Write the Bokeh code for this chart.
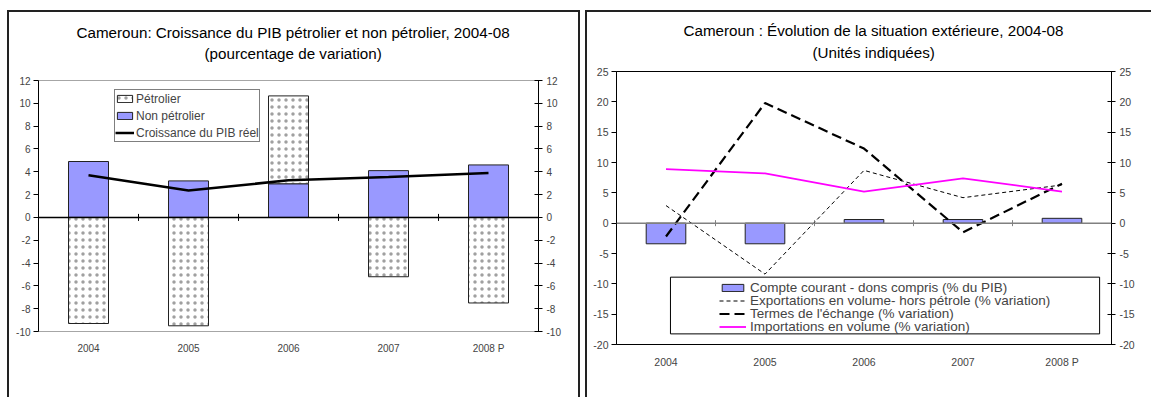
import numpy as np
from bokeh.plotting import figure
from bokeh.models import (Range1d, FixedTicker, LinearAxis, Span, Title,
                          Legend, LegendItem, BoxAnnotation)
from bokeh.embed import file_html
from bokeh.resources import INLINE

# ---- data -------------------------------------------------------------
years = ["2004", "2005", "2006", "2007", "2008 P"]

# Croissance du PIB (pourcentage de variation)
petrolier = [-9.3, -9.5, 7.7, -5.2, -7.5]
non_petrolier = [4.9, 3.2, 2.95, 4.1, 4.6]
pib_reel = [3.7, 2.35, 3.25, 3.55, 3.9]
left_ticks = [-10, -8, -6, -4, -2, 0, 2, 4, 6, 8, 10, 12]

# Situation extérieure (unités indiquées)
compte_courant = [-3.4, -3.4, 0.6, 0.6, 0.8]
exportations = [2.9, -8.4, 8.7, 4.2, 6.3]
termes_echange = [-2.2, 19.8, 12.3, -1.5, 6.5]
importations = [8.9, 8.2, 5.2, 7.4, 5.2]
right_ticks = [-20, -15, -10, -5, 0, 5, 10, 15, 20, 25]

# ---- styling ----------------------------------------------------------
FONT = "Liberation Sans"
BAR_BLUE = "#9999FF"
PANEL_OUTLINE = "2px solid #222222"
TITLE_SIZE = "15.2px"

n = len(years)
centers = np.arange(n) + 0.5
boundaries = np.arange(1, n)
labels = {float(c): y for c, y in zip(centers, years)}


def base_figure(width, height, y_lo, y_hi, borders):
    p = figure(width=width, height=height, output_backend="svg",
               toolbar_location=None, x_range=Range1d(0, n),
               y_range=Range1d(y_lo, y_hi), min_border_left=borders[0],
               min_border_right=borders[1], min_border_top=borders[2],
               min_border_bottom=borders[3])
    p.xgrid.visible = False
    p.ygrid.visible = False
    p.background_fill_color = "white"
    p.border_fill_color = "white"
    return p


def style_axes(p, ticks, label_size):
    plain = {float(t): str(t) for t in ticks}   # hyphen-minus labels

    xa = p.xaxis[0]
    xa.ticker = FixedTicker(ticks=list(centers))
    xa.major_label_overrides = labels
    xa.axis_line_color = None
    xa.major_tick_line_color = None
    xa.minor_tick_line_color = None
    xa.major_label_standoff = 5
    xa.major_label_text_font = FONT
    xa.major_label_text_font_size = label_size

    ya = p.yaxis[0]
    ya.ticker = FixedTicker(ticks=ticks)
    ya.major_label_overrides = plain
    ya.axis_line_color = "black"
    ya.major_tick_line_color = "black"
    ya.major_tick_out = 5
    ya.major_tick_in = 0
    ya.minor_tick_line_color = None
    ya.major_label_standoff = 3
    ya.major_label_text_font = FONT
    ya.major_label_text_font_size = label_size

    ra = LinearAxis(ticker=FixedTicker(ticks=ticks))
    ra.major_label_overrides = plain
    ra.axis_line_color = "black"
    ra.major_tick_line_color = "black"
    ra.major_tick_out = 4
    ra.major_tick_in = 4
    ra.minor_tick_line_color = None
    ra.major_label_standoff = 4
    ra.major_label_text_font = FONT
    ra.major_label_text_font_size = label_size
    p.add_layout(ra, "right")


def add_titles(p, main, sub, offsets, sub_standoff, main_standoff):
    # subtitle sits next to the frame; the main line is pulled down onto it
    p.add_layout(Title(text=sub, align="left", offset=offsets[1],
                       text_font=FONT, text_font_size=TITLE_SIZE,
                       text_font_style="normal", text_color="black",
                       standoff=sub_standoff), "above")
    p.add_layout(Title(text=main, align="left", offset=offsets[0],
                       text_font=FONT, text_font_size=TITLE_SIZE,
                       text_font_style="normal", text_color="black",
                       standoff=main_standoff), "above")


# ---- left panel: oil / non-oil growth --------------------------------
p1 = base_figure(569, 385, -10, 12, (29, 40, 68, 66))
p1.outline_line_color = "#a6a6a6"
style_axes(p1, left_ticks, "10px")
add_titles(p1, "Cameroun: Croissance du PIB pétrolier et non pétrolier, 2004-08",
           "(pourcentage de variation)", (38, 166), 36.5, -32.5)

pet = np.array(petrolier)
nonpet = np.array(non_petrolier)
pet_bottom = np.where(pet > 0, nonpet, 0.0)
pet_top = pet_bottom + pet

r_nonpet = p1.vbar(x=centers, top=nonpet, bottom=0, width=0.4,
                   fill_color=BAR_BLUE, line_color="#222222", line_width=1)
r_pet = p1.vbar(x=centers, top=pet_top, bottom=pet_bottom, width=0.4,
                fill_color="white", line_color="#222222", line_width=1,
                hatch_pattern="dot", hatch_color="#a0a0a0", hatch_scale=7,
                hatch_weight=1)

p1.add_layout(Span(location=0, dimension="width", line_color="black",
                   line_width=1.5))
p1.scatter(x=boundaries, y=np.zeros(len(boundaries)), marker="dash",
           angle=np.pi / 2, size=7, line_color="black", line_width=1)

r_pib = p1.line(x=centers, y=pib_reel, line_color="black", line_width=2.5)

leg1 = Legend(items=[LegendItem(label="Pétrolier", renderers=[r_pet]),
                     LegendItem(label="Non pétrolier", renderers=[r_nonpet]),
                     LegendItem(label="Croissance du PIB réel", renderers=[r_pib])],
              location=(76, 189), padding=0, spacing=0, margin=0,
              label_height=17, glyph_height=9, glyph_width=19,
              label_standoff=2, label_text_font=FONT,
              label_text_font_size="12px", border_line_color="black",
              border_line_width=1, background_fill_color="white",
              background_fill_alpha=1)
p1.add_layout(leg1)

# ---- right panel: external sector ------------------------------------
p2 = base_figure(564, 385, -20, 25, (29, 40, 59, 53))
p2.outline_line_color = "black"
style_axes(p2, right_ticks, "10.5px")
add_titles(p2, "Cameroun : Évolution de la situation extérieure, 2004-08",
           "(Unités indiquées)", (67, 196), 21.5, -17.5)

r_cc = p2.vbar(x=centers, top=compte_courant, bottom=0, width=0.4,
               fill_color=BAR_BLUE, line_color="#222222", line_width=1)
p2.add_layout(Span(location=0, dimension="width", line_color="#808080",
                   line_width=1.5))
p2.scatter(x=boundaries, y=np.zeros(len(boundaries)), marker="dash",
           angle=np.pi / 2, size=6, line_color="#808080", line_width=1)

r_exp = p2.line(x=centers, y=exportations, line_color="black", line_width=1,
                line_dash="4 3")
r_tdt = p2.line(x=centers, y=termes_echange, line_color="black",
                line_width=2.2, line_dash="10 5")
r_imp = p2.line(x=centers, y=importations, line_color="#FF00FF",
                line_width=1.8)

# frame of the legend, wider than its centred entries
p2.add_layout(BoxAnnotation(left=0.545, right=4.88, top=-8.9, bottom=-18.25,
                            fill_color="white", fill_alpha=1,
                            line_color="black", line_width=1, line_alpha=1))

# one single-entry legend per row, so the rows can sit 13 px apart
entries = [("Compte courant - dons compris (% du PIB)", r_cc),
           ("Exportations en volume- hors pétrole (% variation)", r_exp),
           ("Termes de l'échange (% variation)", r_tdt),
           ("Importations en volume (% variation)", r_imp)]
for i, (lab, rend) in enumerate(entries):
    p2.add_layout(Legend(items=[LegendItem(label=lab, renderers=[rend])],
                         location=(103, 49.35 - 13 * i), padding=0, spacing=0,
                         margin=0, label_height=13, glyph_height=9,
                         glyph_width=27, label_standoff=4,
                         label_text_font=FONT, label_text_font_size="13.5px",
                         border_line_color=None, background_fill_alpha=0))

# ---- page: two framed panels placed side by side ----------------------
p1.styles = {"position": "absolute", "left": "9px", "top": "12px",
             "outline": PANEL_OUTLINE}
p2.styles = {"position": "absolute", "left": "587px", "top": "12px",
             "outline": PANEL_OUTLINE}

open("out.html", "w").write(file_html([p1, p2], INLINE))
